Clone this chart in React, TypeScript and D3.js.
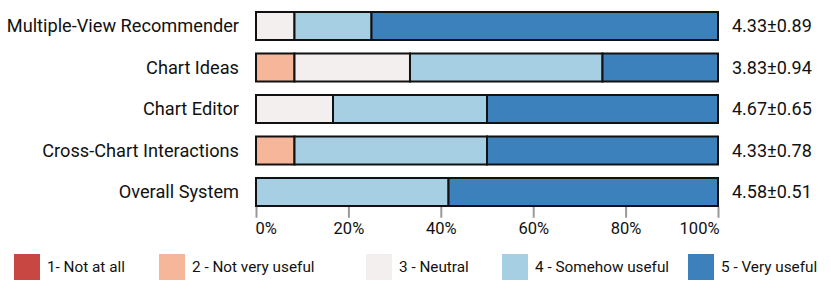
import * as d3 from "d3";
import { useEffect, useRef } from "react";

const categories = [
  "Multiple-View Recommender",
  "Chart Ideas",
  "Chart Editor",
  "Cross-Chart Interactions",
  "Overall System",
];

const levels = [
  "1- Not at all",
  "2 - Not very useful",
  "3 - Neutral",
  "4 - Somehow useful",
  "5 - Very useful",
];

// share of answers (%) per level, one row per category
const notAtAll = [0, 0, 0, 0, 0];
const notVeryUseful = [0, 8.33, 0, 8.33, 0];
const neutral = [8.33, 25, 16.67, 0, 0];
const somehowUseful = [16.67, 41.67, 33.33, 41.67, 41.67];
const veryUseful = [75, 25, 50, 50, 58.33];

const scoreLabels = ["4.33±0.89", "3.83±0.94", "4.67±0.65", "4.33±0.78", "4.58±0.51"];

const colors = ["#c84742", "#f5b69a", "#f2efee", "#a7cfe3", "#3d81bc"];

const App: React.FC = () => {
  const ref = useRef<SVGSVGElement | null>(null);

  useEffect(() => {
    if (!ref.current) return;
    const svg = d3.select(ref.current);
    svg.selectAll("*").remove();

    const font = "Roboto, sans-serif";
    const x = d3.scaleLinear().domain([0, 100]).range([256, 718]);
    const y = d3
      .scaleBand<string>()
      .domain(categories)
      .range([5.25, 212.75])
      .paddingInner(0.325)
      .paddingOuter(0.1625);

    const rows = categories.map((c, i) => ({
      category: c,
      values: [notAtAll[i], notVeryUseful[i], neutral[i], somehowUseful[i], veryUseful[i]],
    }));

    // axis
    const axis = svg
      .append("g")
      .attr("transform", `translate(0, ${y.range()[1] - 6})`)
      .call(
        d3
          .axisBottom(x)
          .ticks(5)
          .tickSize(11)
          .tickPadding(5)
          .tickFormat((d) => `${d}%`)
      );
    axis.select(".domain").remove();
    axis.selectAll("line").attr("stroke", "#999").attr("stroke-width", 2);
    axis
      .selectAll<SVGTextElement, number>("text")
      .attr("font-family", font)
      .attr("font-size", 16.5)
      .attr("fill", "#111")
      .attr("text-anchor", (d) => (d === 0 ? "start" : d === 100 ? "end" : "middle"))
      .attr("dx", (d) => (d === 0 ? -1 : d === 100 ? 1 : 0));

    // bars
    rows.forEach((row) => {
      let acc = 0;
      const segs = row.values.map((v, k) => {
        const s = { start: acc, end: acc + v, k };
        acc += v;
        return s;
      });
      svg
        .append("g")
        .selectAll("rect")
        .data(segs.filter((s) => s.end > s.start))
        .join("rect")
        .attr("x", (s) => x(s.start))
        .attr("width", (s) => x(s.end) - x(s.start))
        .attr("y", y(row.category)!)
        .attr("height", y.bandwidth())
        .attr("fill", (s) => colors[s.k])
        .attr("stroke", "#111")
        .attr("stroke-width", 2);
    });

    // category labels
    svg
      .append("g")
      .selectAll("text")
      .data(categories)
      .join("text")
      .attr("x", x(0) - 17)
      .attr("y", (d) => y(d)! + y.bandwidth() / 2)
      .attr("dy", "0.35em")
      .attr("text-anchor", "end")
      .attr("font-family", font)
      .attr("font-size", 18.2)
      .attr("fill", "#111")
      .text((d) => d);

    // score labels
    svg
      .append("g")
      .selectAll("text")
      .data(categories)
      .join("text")
      .attr("x", x(100) + 14)
      .attr("y", (d) => y(d)! + y.bandwidth() / 2)
      .attr("dy", "0.35em")
      .attr("font-family", font)
      .attr("font-size", 18)
      .attr("fill", "#111")
      .text((d, i) => scoreLabels[i]);

    // legend
    const legendX = [14, 159, 366, 502, 688];
    const legend = svg
      .append("g")
      .selectAll("g")
      .data(levels)
      .join("g")
      .attr("transform", (d, i) => `translate(${legendX[i]}, 254)`);
    legend
      .append("rect")
      .attr("width", 26)
      .attr("height", 26)
      .attr("fill", (d, i) => colors[i]);
    legend
      .append("text")
      .attr("x", 33)
      .attr("y", 13)
      .attr("dy", "0.35em")
      .attr("font-family", font)
      .attr("font-size", 15.3)
      .attr("fill", "#111")
      .text((d) => d);
  }, []);

  return (
    <svg
      ref={ref}
      width={831}
      height={290}
      style={{ position: "absolute", left: 0, top: 0, background: "#fff" }}
    />
  );
};

export default App;
